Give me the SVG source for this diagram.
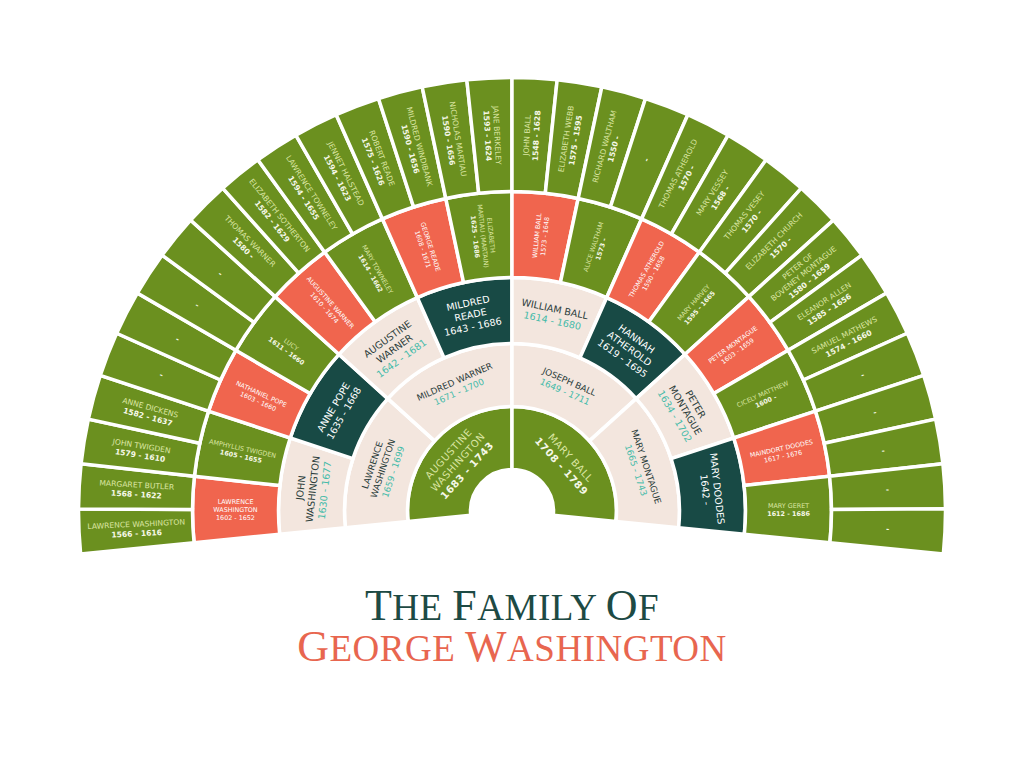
<svg xmlns="http://www.w3.org/2000/svg" width="1024" height="760" viewBox="0 0 1024 760">
<style>
.sec{stroke:#fff;stroke-width:3.5;stroke-linejoin:miter}
.g{fill:#6b901f}.r{fill:#f0654e}.d{fill:#184a45}.b{fill:#f3e6de}
text{font-family:"DejaVu Sans","Liberation Sans",sans-serif;text-anchor:middle}
.t5{font-size:7.6px}.t4{font-size:6.4px}.t3{font-size:9.6px}.t2{font-size:8.8px}.t1{font-size:10px;letter-spacing:0.6px}
.ng{fill:#dbe6a3}.dg{fill:#f6f8e8;font-weight:bold}
.nw{fill:#ffffff}.dw{fill:#ffffff}
.nb{fill:#2b3d3b}.db{fill:#45bba9}
.title{font-family:"Liberation Serif","DejaVu Serif",serif;text-anchor:middle;letter-spacing:0.5px}
</style>
<defs>
<path id="s1" d="M27.85,-30.77 L70.13,-77.47 A104.5,104.5 0 0 1 70.13,77.47 L27.85,30.77 A41.5,41.5 0 0 0 27.85,-30.77 Z"/>
<path id="s2" d="M95.52,-42.38 L153.11,-67.93 A167.5,167.5 0 0 1 153.11,67.93 L95.52,42.38 A104.5,104.5 0 0 0 95.52,-42.38 Z"/>
<path id="s3" d="M163.86,-34.72 L228.43,-48.40 A233.5,233.5 0 0 1 228.43,48.40 L163.86,34.72 A167.5,167.5 0 0 0 163.86,-34.72 Z"/>
<path id="s4" d="M232.23,-24.33 L317.76,-33.29 A319.5,319.5 0 0 1 317.76,33.29 L232.23,24.33 A233.5,233.5 0 0 0 232.23,-24.33 Z"/>
<path id="s5" d="M319.07,-16.67 L432.91,-22.62 A433.5,433.5 0 0 1 432.91,22.62 L319.07,16.67 A319.5,319.5 0 0 0 319.07,-16.67 Z"/>
</defs>
<rect width="1024" height="760" fill="#ffffff"/>
<g id="fan" transform="translate(512 511)">
<!-- ring 1 -->
<g id="augustine-washington"><use href="#s1" class="sec g" transform="rotate(-137.85)"/><text class="t1" transform="rotate(-137.85) translate(73 0) rotate(90)"><tspan class="ng" x="0" y="-9">AUGUSTINE</tspan><tspan class="ng" x="0" y="3.5">WASHINGTON</tspan><tspan class="dg" x="0" y="16">1683 - 1743</tspan></text></g>
<g id="mary-ball"><use href="#s1" class="sec g" transform="rotate(-42.15)"/><text class="t1" transform="rotate(-42.15) translate(73 0) rotate(90)"><tspan class="ng" x="0" y="-2.75">MARY BALL</tspan><tspan class="dg" x="0" y="9.75">1708 - 1789</tspan></text></g>
<!-- ring 2 -->
<g id="lawrence-washington-1659"><use href="#s2" class="sec b" transform="rotate(-161.78)"/><text class="t2" transform="rotate(-161.78) translate(136 0) rotate(90)"><tspan class="nb" x="0" y="-7.9">LAWRENCE</tspan><tspan class="nb" x="0" y="3.1">WASHINGTON</tspan><tspan class="db" x="0" y="14.1">1659 - 1699</tspan></text></g>
<g id="mildred-warner"><use href="#s2" class="sec b" transform="rotate(-113.93)"/><text class="t2" transform="rotate(-113.93) translate(136 0) rotate(90)"><tspan class="nb" x="0" y="-2.4">MILDRED WARNER</tspan><tspan class="db" x="0" y="8.6">1671 - 1700</tspan></text></g>
<g id="joseph-ball"><use href="#s2" class="sec b" transform="rotate(-66.08)"/><text class="t2" transform="rotate(-66.08) translate(136 0) rotate(90)"><tspan class="nb" x="0" y="-2.4">JOSEPH BALL</tspan><tspan class="db" x="0" y="8.6">1649 - 1711</tspan></text></g>
<g id="mary-montague"><use href="#s2" class="sec b" transform="rotate(-18.23)"/><text class="t2" transform="rotate(-18.23) translate(136 0) rotate(90)"><tspan class="nb" x="0" y="-2.4">MARY MONTAGUE</tspan><tspan class="db" x="0" y="8.6">1665 - 1743</tspan></text></g>
<!-- ring 3 -->
<g id="john-washington"><use href="#s3" class="sec b" transform="rotate(-173.74)"/><text class="t3" transform="rotate(-173.74) translate(200.5 0) rotate(90)"><tspan class="nb" x="0" y="-8.6">JOHN</tspan><tspan class="nb" x="0" y="3.4">WASHINGTON</tspan><tspan class="db" x="0" y="15.4">1630 - 1677</tspan></text></g>
<g id="anne-pope"><use href="#s3" class="sec d" transform="rotate(-149.81)"/><text class="t3" transform="rotate(-149.81) translate(200.5 0) rotate(90)"><tspan class="nw" x="0" y="-2.6">ANNE POPE</tspan><tspan class="dw" x="0" y="9.4">1635 - 1668</tspan></text></g>
<g id="augustine-warner-1642"><use href="#s3" class="sec b" transform="rotate(-125.89)"/><text class="t3" transform="rotate(-125.89) translate(200.5 0) rotate(90)"><tspan class="nb" x="0" y="-8.6">AUGUSTINE</tspan><tspan class="nb" x="0" y="3.4">WARNER</tspan><tspan class="db" x="0" y="15.4">1642 - 1681</tspan></text></g>
<g id="mildred-reade"><use href="#s3" class="sec d" transform="rotate(-101.96)"/><text class="t3" transform="rotate(-101.96) translate(200.5 0) rotate(90)"><tspan class="nw" x="0" y="-8.6">MILDRED</tspan><tspan class="nw" x="0" y="3.4">READE</tspan><tspan class="dw" x="0" y="15.4">1643 - 1686</tspan></text></g>
<g id="william-ball-1614"><use href="#s3" class="sec b" transform="rotate(-78.04)"/><text class="t3" transform="rotate(-78.04) translate(200.5 0) rotate(90)"><tspan class="nb" x="0" y="-2.6">WILLIAM BALL</tspan><tspan class="db" x="0" y="9.4">1614 - 1680</tspan></text></g>
<g id="hannah-atherold"><use href="#s3" class="sec d" transform="rotate(-54.11)"/><text class="t3" transform="rotate(-54.11) translate(200.5 0) rotate(90)"><tspan class="nw" x="0" y="-8.6">HANNAH</tspan><tspan class="nw" x="0" y="3.4">ATHEROLD</tspan><tspan class="dw" x="0" y="15.4">1619 - 1695</tspan></text></g>
<g id="peter-montague-1634"><use href="#s3" class="sec b" transform="rotate(-30.19)"/><text class="t3" transform="rotate(-30.19) translate(200.5 0) rotate(90)"><tspan class="nb" x="0" y="-8.6">PETER</tspan><tspan class="nb" x="0" y="3.4">MONTAGUE</tspan><tspan class="db" x="0" y="15.4">1634 - 1702</tspan></text></g>
<g id="mary-doodes"><use href="#s3" class="sec d" transform="rotate(-6.26)"/><text class="t3" transform="rotate(-6.26) translate(200.5 0) rotate(90)"><tspan class="nw" x="0" y="-2.6">MARY DOODES</tspan><tspan class="dw" x="0" y="9.4">1642 -</tspan></text></g>
<!-- ring 4 -->
<g id="lawrence-washington-1602"><use href="#s4" class="sec r" transform="rotate(-179.72)"/><text class="t4" transform="rotate(-179.72) translate(276.5 0) rotate(180)"><tspan class="nw" x="0" y="-5.7">LAWRENCE</tspan><tspan class="nw" x="0" y="2.3">WASHINGTON</tspan><tspan class="dw" x="0" y="10.3">1602 - 1652</tspan></text></g>
<g id="amphyllis-twigden"><use href="#s4" class="sec g" transform="rotate(-167.76)"/><text class="t4" transform="rotate(-167.76) translate(276.5 0) rotate(180)"><tspan class="ng" x="0" y="-1.7">AMPHYLLIS TWIGDEN</tspan><tspan class="dg" x="0" y="6.3">1605 - 1655</tspan></text></g>
<g id="nathaniel-pope"><use href="#s4" class="sec r" transform="rotate(-155.79)"/><text class="t4" transform="rotate(-155.79) translate(276.5 0) rotate(180)"><tspan class="nw" x="0" y="-1.7">NATHANIEL POPE</tspan><tspan class="dw" x="0" y="6.3">1603 - 1660</tspan></text></g>
<g id="lucy"><use href="#s4" class="sec g" transform="rotate(-143.83)"/><text class="t4" transform="rotate(-143.83) translate(276.5 0) rotate(180)"><tspan class="ng" x="0" y="-1.7">LUCY</tspan><tspan class="dg" x="0" y="6.3">1611 - 1660</tspan></text></g>
<g id="augustine-warner-1610"><use href="#s4" class="sec r" transform="rotate(-131.87)"/><text class="t4" transform="rotate(-131.87) translate(276.5 0) rotate(180)"><tspan class="nw" x="0" y="-1.7">AUGUSTINE WARNER</tspan><tspan class="dw" x="0" y="6.3">1610 - 1674</tspan></text></g>
<g id="mary-towneley"><use href="#s4" class="sec g" transform="rotate(-119.91)"/><text class="t4" transform="rotate(-119.91) translate(276.5 0) rotate(180)"><tspan class="ng" x="0" y="-1.7">MARY TOWNELEY</tspan><tspan class="dg" x="0" y="6.3">1614 - 1662</tspan></text></g>
<g id="george-reade"><use href="#s4" class="sec r" transform="rotate(-107.94)"/><text class="t4" transform="rotate(-107.94) translate(276.5 0) rotate(180)"><tspan class="nw" x="0" y="-1.7">GEORGE READE</tspan><tspan class="dw" x="0" y="6.3">1608 - 1671</tspan></text></g>
<g id="elizabeth-martiau"><use href="#s4" class="sec g" transform="rotate(-95.98)"/><text class="t4" transform="rotate(-95.98) translate(276.5 0) rotate(180)"><tspan class="ng" x="0" y="-5.7">ELIZABETH</tspan><tspan class="ng" x="0" y="2.3">MARTIAU (MARTAIN)</tspan><tspan class="dg" x="0" y="10.3">1625 - 1686</tspan></text></g>
<g id="william-ball-1573"><use href="#s4" class="sec r" transform="rotate(-84.02)"/><text class="t4" transform="rotate(-84.02) translate(276.5 0)"><tspan class="nw" x="0" y="-1.7">WILLIAM BALL</tspan><tspan class="dw" x="0" y="6.3">1573 - 1648</tspan></text></g>
<g id="alice-waltham"><use href="#s4" class="sec g" transform="rotate(-72.06)"/><text class="t4" transform="rotate(-72.06) translate(276.5 0)"><tspan class="ng" x="0" y="-1.7">ALICE WALTHAM</tspan><tspan class="dg" x="0" y="6.3">1573 -</tspan></text></g>
<g id="thomas-atherold-1590"><use href="#s4" class="sec r" transform="rotate(-60.09)"/><text class="t4" transform="rotate(-60.09) translate(276.5 0)"><tspan class="nw" x="0" y="-1.7">THOMAS ATHEROLD</tspan><tspan class="dw" x="0" y="6.3">1590 - 1658</tspan></text></g>
<g id="mary-harvey"><use href="#s4" class="sec g" transform="rotate(-48.13)"/><text class="t4" transform="rotate(-48.13) translate(276.5 0)"><tspan class="ng" x="0" y="-1.7">MARY HARVEY</tspan><tspan class="dg" x="0" y="6.3">1595 - 1665</tspan></text></g>
<g id="peter-montague-1603"><use href="#s4" class="sec r" transform="rotate(-36.17)"/><text class="t4" transform="rotate(-36.17) translate(276.5 0)"><tspan class="nw" x="0" y="-1.7">PETER MONTAGUE</tspan><tspan class="dw" x="0" y="6.3">1603 - 1659</tspan></text></g>
<g id="cicely-matthew"><use href="#s4" class="sec g" transform="rotate(-24.21)"/><text class="t4" transform="rotate(-24.21) translate(276.5 0)"><tspan class="ng" x="0" y="-1.7">CICELY MATTHEW</tspan><tspan class="dg" x="0" y="6.3">1600 -</tspan></text></g>
<g id="maindort-doodes"><use href="#s4" class="sec r" transform="rotate(-12.24)"/><text class="t4" transform="rotate(-12.24) translate(276.5 0)"><tspan class="nw" x="0" y="-1.7">MAINDORT DOODES</tspan><tspan class="dw" x="0" y="6.3">1617 - 1676</tspan></text></g>
<g id="mary-geret"><use href="#s4" class="sec g" transform="rotate(-0.28)"/><text class="t4" transform="rotate(-0.28) translate(276.5 0)"><tspan class="ng" x="0" y="-1.7">MARY GERET</tspan><tspan class="dg" x="0" y="6.3">1612 - 1686</tspan></text></g>
<!-- ring 5 -->
<g id="lawrence-washington-1566"><use href="#s5" class="sec g" transform="rotate(-182.71)"/><text class="t5" transform="rotate(-182.71) translate(376 0) rotate(180)"><tspan class="ng" x="0" y="-2">LAWRENCE WASHINGTON</tspan><tspan class="dg" x="0" y="7.5">1566 - 1616</tspan></text></g>
<g id="margaret-butler"><use href="#s5" class="sec g" transform="rotate(-176.73)"/><text class="t5" transform="rotate(-176.73) translate(376 0) rotate(180)"><tspan class="ng" x="0" y="-2">MARGARET BUTLER</tspan><tspan class="dg" x="0" y="7.5">1568 - 1622</tspan></text></g>
<g id="john-twigden"><use href="#s5" class="sec g" transform="rotate(-170.75)"/><text class="t5" transform="rotate(-170.75) translate(376 0) rotate(180)"><tspan class="ng" x="0" y="-2">JOHN TWIGDEN</tspan><tspan class="dg" x="0" y="7.5">1579 - 1610</tspan></text></g>
<g id="anne-dickens"><use href="#s5" class="sec g" transform="rotate(-164.77)"/><text class="t5" transform="rotate(-164.77) translate(376 0) rotate(180)"><tspan class="ng" x="0" y="-2">ANNE DICKENS</tspan><tspan class="dg" x="0" y="7.5">1582 - 1637</tspan></text></g>
<g id="unknown-04"><use href="#s5" class="sec g" transform="rotate(-158.78)"/><text class="t5 dg" transform="rotate(-158.78) translate(376 0) rotate(180)" y="2.7">-</text></g>
<g id="unknown-05"><use href="#s5" class="sec g" transform="rotate(-152.80)"/><text class="t5 dg" transform="rotate(-152.80) translate(376 0) rotate(180)" y="2.7">-</text></g>
<g id="unknown-06"><use href="#s5" class="sec g" transform="rotate(-146.82)"/><text class="t5 dg" transform="rotate(-146.82) translate(376 0) rotate(180)" y="2.7">-</text></g>
<g id="unknown-07"><use href="#s5" class="sec g" transform="rotate(-140.84)"/><text class="t5 dg" transform="rotate(-140.84) translate(376 0) rotate(180)" y="2.7">-</text></g>
<g id="thomas-warner"><use href="#s5" class="sec g" transform="rotate(-134.86)"/><text class="t5" transform="rotate(-134.86) translate(376 0) rotate(180)"><tspan class="ng" x="0" y="-2">THOMAS WARNER</tspan><tspan class="dg" x="0" y="7.5">1580 -</tspan></text></g>
<g id="elizabeth-sotherton"><use href="#s5" class="sec g" transform="rotate(-128.88)"/><text class="t5" transform="rotate(-128.88) translate(376 0) rotate(180)"><tspan class="ng" x="0" y="-2">ELIZABETH SOTHERTON</tspan><tspan class="dg" x="0" y="7.5">1582 - 1629</tspan></text></g>
<g id="lawrence-towneley"><use href="#s5" class="sec g" transform="rotate(-122.90)"/><text class="t5" transform="rotate(-122.90) translate(376 0) rotate(180)"><tspan class="ng" x="0" y="-2">LAWRENCE TOWNELEY</tspan><tspan class="dg" x="0" y="7.5">1594 - 1655</tspan></text></g>
<g id="jennet-halstead"><use href="#s5" class="sec g" transform="rotate(-116.92)"/><text class="t5" transform="rotate(-116.92) translate(376 0) rotate(180)"><tspan class="ng" x="0" y="-2">JENNET HALSTEAD</tspan><tspan class="dg" x="0" y="7.5">1594 - 1623</tspan></text></g>
<g id="robert-reade"><use href="#s5" class="sec g" transform="rotate(-110.93)"/><text class="t5" transform="rotate(-110.93) translate(376 0) rotate(180)"><tspan class="ng" x="0" y="-2">ROBERT READE</tspan><tspan class="dg" x="0" y="7.5">1575 - 1626</tspan></text></g>
<g id="mildred-windibank"><use href="#s5" class="sec g" transform="rotate(-104.95)"/><text class="t5" transform="rotate(-104.95) translate(376 0) rotate(180)"><tspan class="ng" x="0" y="-2">MILDRED WINDIBANK</tspan><tspan class="dg" x="0" y="7.5">1590 - 1656</tspan></text></g>
<g id="nicholas-martiau"><use href="#s5" class="sec g" transform="rotate(-98.97)"/><text class="t5" transform="rotate(-98.97) translate(376 0) rotate(180)"><tspan class="ng" x="0" y="-2">NICHOLAS MARTIAU</tspan><tspan class="dg" x="0" y="7.5">1590 - 1656</tspan></text></g>
<g id="jane-berkeley"><use href="#s5" class="sec g" transform="rotate(-92.99)"/><text class="t5" transform="rotate(-92.99) translate(376 0) rotate(180)"><tspan class="ng" x="0" y="-2">JANE BERKELEY</tspan><tspan class="dg" x="0" y="7.5">1593 - 1624</tspan></text></g>
<g id="john-ball"><use href="#s5" class="sec g" transform="rotate(-87.01)"/><text class="t5" transform="rotate(-87.01) translate(376 0)"><tspan class="ng" x="0" y="-2">JOHN BALL</tspan><tspan class="dg" x="0" y="7.5">1548 - 1628</tspan></text></g>
<g id="elizabeth-webb"><use href="#s5" class="sec g" transform="rotate(-81.03)"/><text class="t5" transform="rotate(-81.03) translate(376 0)"><tspan class="ng" x="0" y="-2">ELIZABETH WEBB</tspan><tspan class="dg" x="0" y="7.5">1575 - 1595</tspan></text></g>
<g id="richard-waltham"><use href="#s5" class="sec g" transform="rotate(-75.05)"/><text class="t5" transform="rotate(-75.05) translate(376 0)"><tspan class="ng" x="0" y="-2">RICHARD WALTHAM</tspan><tspan class="dg" x="0" y="7.5">1550 -</tspan></text></g>
<g id="unknown-19"><use href="#s5" class="sec g" transform="rotate(-69.07)"/><text class="t5 dg" transform="rotate(-69.07) translate(376 0)" y="2.7">-</text></g>
<g id="thomas-atherold-1570"><use href="#s5" class="sec g" transform="rotate(-63.08)"/><text class="t5" transform="rotate(-63.08) translate(376 0)"><tspan class="ng" x="0" y="-2">THOMAS ATHEROLD</tspan><tspan class="dg" x="0" y="7.5">1570 -</tspan></text></g>
<g id="mary-vessey"><use href="#s5" class="sec g" transform="rotate(-57.10)"/><text class="t5" transform="rotate(-57.10) translate(376 0)"><tspan class="ng" x="0" y="-2">MARY VESSEY</tspan><tspan class="dg" x="0" y="7.5">1568 -</tspan></text></g>
<g id="thomas-vesey"><use href="#s5" class="sec g" transform="rotate(-51.12)"/><text class="t5" transform="rotate(-51.12) translate(376 0)"><tspan class="ng" x="0" y="-2">THOMAS VESEY</tspan><tspan class="dg" x="0" y="7.5">1570 -</tspan></text></g>
<g id="elizabeth-church"><use href="#s5" class="sec g" transform="rotate(-45.14)"/><text class="t5" transform="rotate(-45.14) translate(376 0)"><tspan class="ng" x="0" y="-2">ELIZABETH CHURCH</tspan><tspan class="dg" x="0" y="7.5">1570 -</tspan></text></g>
<g id="peter-of-boveney-montague"><use href="#s5" class="sec g" transform="rotate(-39.16)"/><text class="t5" transform="rotate(-39.16) translate(376 0)"><tspan class="ng" x="0" y="-6.8">PETER OF</tspan><tspan class="ng" x="0" y="2.7">BOVENEY MONTAGUE</tspan><tspan class="dg" x="0" y="12.2">1580 - 1659</tspan></text></g>
<g id="eleanor-allen"><use href="#s5" class="sec g" transform="rotate(-33.18)"/><text class="t5" transform="rotate(-33.18) translate(376 0)"><tspan class="ng" x="0" y="-2">ELEANOR ALLEN</tspan><tspan class="dg" x="0" y="7.5">1585 - 1656</tspan></text></g>
<g id="samuel-mathews"><use href="#s5" class="sec g" transform="rotate(-27.20)"/><text class="t5" transform="rotate(-27.20) translate(376 0)"><tspan class="ng" x="0" y="-2">SAMUEL MATHEWS</tspan><tspan class="dg" x="0" y="7.5">1574 - 1660</tspan></text></g>
<g id="unknown-27"><use href="#s5" class="sec g" transform="rotate(-21.22)"/><text class="t5 dg" transform="rotate(-21.22) translate(376 0)" y="2.7">-</text></g>
<g id="unknown-28"><use href="#s5" class="sec g" transform="rotate(-15.23)"/><text class="t5 dg" transform="rotate(-15.23) translate(376 0)" y="2.7">-</text></g>
<g id="unknown-29"><use href="#s5" class="sec g" transform="rotate(-9.25)"/><text class="t5 dg" transform="rotate(-9.25) translate(376 0)" y="2.7">-</text></g>
<g id="unknown-30"><use href="#s5" class="sec g" transform="rotate(-3.27)"/><text class="t5 dg" transform="rotate(-3.27) translate(376 0)" y="2.7">-</text></g>
<g id="unknown-31"><use href="#s5" class="sec g" transform="rotate(2.71)"/><text class="t5 dg" transform="rotate(2.71) translate(376 0)" y="2.7">-</text></g>
</g>
<g id="connectors"></g>
<g id="title">
<text class="title" x="512" y="620" fill="#1d4a44"><tspan font-size="44">T</tspan><tspan font-size="37">HE </tspan><tspan font-size="44">F</tspan><tspan font-size="37">AMILY </tspan><tspan font-size="44">O</tspan><tspan font-size="37">F</tspan></text>
<text class="title" x="512" y="661" fill="#e8664f"><tspan font-size="44">G</tspan><tspan font-size="37">EORGE </tspan><tspan font-size="44">W</tspan><tspan font-size="37">ASHINGTON</tspan></text>
</g>
</svg>
